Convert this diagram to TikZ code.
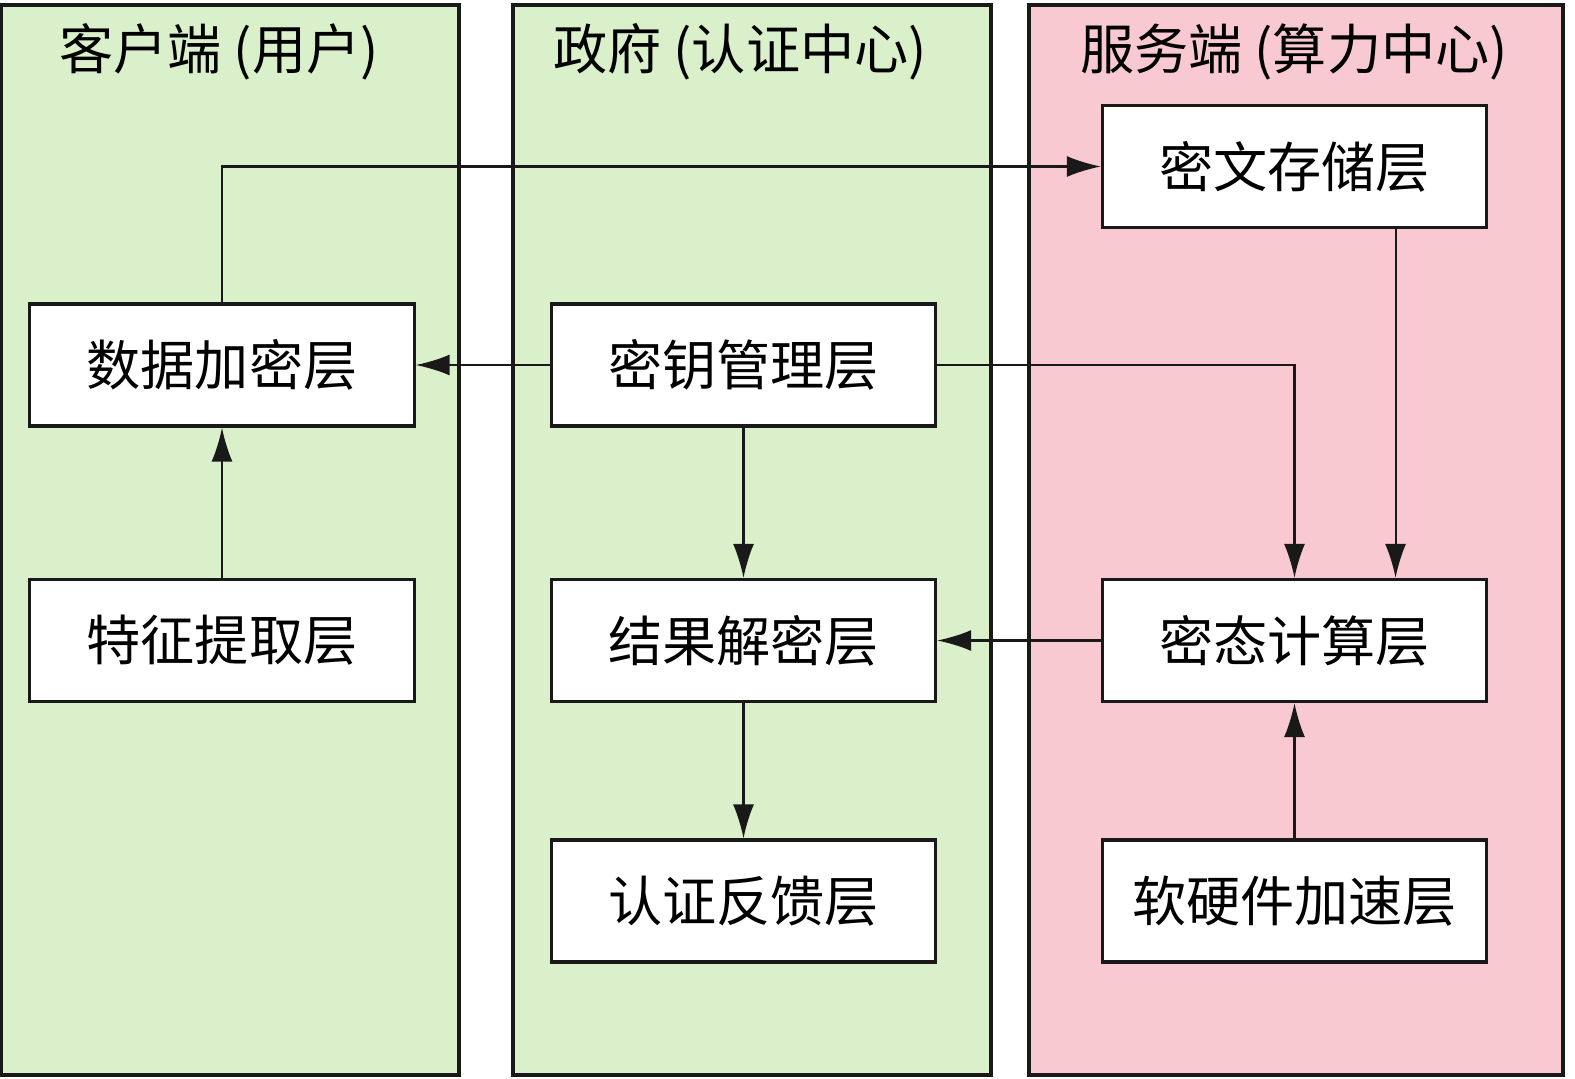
\documentclass[tikz,border=0pt]{standalone}
\usepackage{fontspec}
\newfontfamily\cjk{Noto Sans CJK SC}
\usetikzlibrary{arrows.meta}
\definecolor{clientgreen}{RGB}{218,240,203}
\definecolor{serverpink}{RGB}{248,201,209}
\tikzset{
  panel/.style={draw=black!90,line width=0.9pt},
  paneltitle/.style={font=\cjk\fontsize{15.4}{18}\selectfont},
  layerbox/.style={draw=black!90,fill=white,line width=0.9pt,
    minimum width=3.84cm,minimum height=1.22cm,inner sep=0pt,
    font=\cjk\fontsize{15.4}{18}\selectfont},
  conn/.style={draw=black!90,line width=0.6pt,-{Latex[length=0.34cm,width=0.21cm]}}
}
\begin{document}
\begin{tikzpicture}[x=0.01cm,y=-0.01cm]
\useasboundingbox (0,0) rectangle (1575,1079);
% three columns
\draw[panel,fill=clientgreen] (1.5,5) rectangle (459,1075);
\draw[panel,fill=clientgreen] (513,5) rectangle (991,1075);
\draw[panel,fill=serverpink] (1029,5) rectangle (1563,1075);
\node[paneltitle] (tclient) at (219,52) {客户端 (用户)};
\node[paneltitle] (tgov) at (740,52) {政府 (认证中心)};
\node[paneltitle] (tserver) at (1294,52) {服务端 (算力中心)};
% client side
\node[layerbox] (enc) at (222,365) {数据加密层};
\node[layerbox] (feat) at (222,640.5) {特征提取层};
% government
\node[layerbox] (key) at (743.5,365) {密钥管理层};
\node[layerbox] (decrypt) at (743.5,640.5) {结果解密层};
\node[layerbox] (auth) at (743.5,901) {认证反馈层};
% server side
\node[layerbox] (store) at (1294.5,166.5) {密文存储层};
\node[layerbox] (calc) at (1294.5,640.5) {密态计算层};
\node[layerbox] (accel) at (1294.5,901) {软硬件加速层};
% connectors
\draw[conn] (enc.north) |- (store.west);
\draw[conn] (key.west) -- (enc.east);
\draw[conn] (key.east) -| (calc.north);
\draw[conn] ([xshift=1.01cm]store.south) -- ([xshift=1.01cm]calc.north);
\draw[conn] (key) -- (decrypt);
\draw[conn] (decrypt) -- (auth);
\draw[conn] (calc) -- (decrypt);
\draw[conn] (feat) -- (enc);
\draw[conn] (accel) -- (calc);
\end{tikzpicture}
\end{document}
